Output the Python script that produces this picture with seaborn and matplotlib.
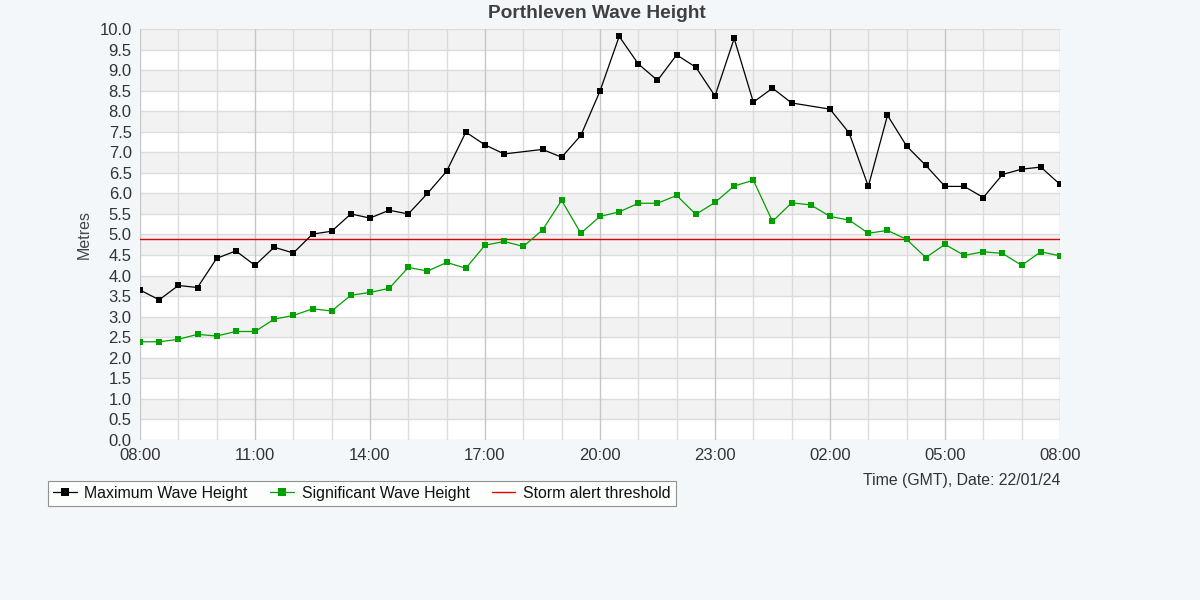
import numpy as np
import pandas as pd
import matplotlib
matplotlib.use("Agg")
import matplotlib.pyplot as plt
import seaborn as sns

# Half-hour slots from 08:00 (22/01/24) to 08:00 next day
slot_hours = [i * 0.5 for i in range(49)]
max_wave = [3.65, 3.41, 3.76, 3.71, 4.42, 4.60, 4.25, 4.69, 4.55, 5.01,
            5.08, 5.50, 5.40, 5.59, 5.50, 6.00, 6.54, 7.49, 7.18, 6.96,
            np.nan, 7.07, 6.88, 7.41, 8.49, 9.82, 9.15, 8.75, 9.37, 9.07,
            8.37, 9.77, 8.22, 8.56, 8.20, np.nan, 8.05, 7.47, 6.17, 7.90,
            7.15, 6.68, 6.17, 6.17, 5.90, 6.46, 6.59, 6.64, 6.22]
sig_wave = [2.39, 2.39, 2.45, 2.57, 2.53, 2.64, 2.64, 2.94, 3.03, 3.19,
            3.14, 3.52, 3.59, 3.69, 4.20, 4.11, 4.32, 4.18, 4.74, 4.83,
            4.71, 5.11, 5.83, 5.03, 5.44, 5.55, 5.76, 5.76, 5.95, 5.49,
            5.78, 6.18, 6.32, 5.32, 5.77, 5.72, 5.44, 5.35, 5.03, 5.10,
            4.88, 4.44, 4.76, 4.49, 4.58, 4.54, 4.25, 4.58, 4.48]
storm_threshold = 4.88
tick_hours = [0, 3, 6, 9, 12, 15, 18, 21, 24]
tick_labels = ["08:00", "11:00", "14:00", "17:00", "20:00", "23:00",
               "02:00", "05:00", "08:00"]
y_ticks = [i * 0.5 for i in range(21)]

sns.set_theme(style="white")
plt.rcParams['font.family'] = ['Liberation Sans', 'DejaVu Sans']

bg = "#f4f7fa"
fig = plt.figure(figsize=(12, 6), dpi=100, facecolor=bg)
ax = fig.add_axes([140/1200, 1-440/600, 920/1200, 411/600])
ax.set_facecolor("white")

# alternating bands
for k in range(10):
    ax.axhspan(k + 0.5, k + 1.0, color="#f2f2f2", zorder=0, lw=0)
for yv in y_ticks:
    ax.axhline(yv, color="#dcdcdc", lw=1, zorder=1)
for h in range(25):
    ax.axvline(h, color="#c6c6c6" if h % 3 == 0 else "#dcdcdc", lw=1, zorder=1)

df_max = pd.DataFrame({"h": slot_hours, "v": max_wave}).dropna()
df_sig = pd.DataFrame({"h": slot_hours, "v": sig_wave}).dropna()

sns.lineplot(data=df_max, x="h", y="v", ax=ax, color="black", lw=0.9,
             marker="s", markersize=4.8, markeredgewidth=0, zorder=4,
             label="Maximum Wave Height", legend=False)
sns.lineplot(data=df_sig, x="h", y="v", ax=ax, color="#00a000", lw=0.9,
             marker="s", markersize=4.8, markeredgewidth=0, zorder=4,
             label="Significant Wave Height", legend=False)
ax.axhline(storm_threshold, color="#dd0000", lw=1.0, zorder=3,
           label="Storm alert threshold")

ax.set_xlim(0, 24)
ax.set_ylim(0, 10)
ax.set_xticks(tick_hours)
ax.set_xticklabels(tick_labels)
ax.set_yticks(y_ticks)
ax.set_yticklabels([f"{v:.1f}" for v in y_ticks])
ax.tick_params(axis="both", labelsize=12, colors="#333333", length=0, pad=6)
ax.tick_params(axis="x", pad=6)
ax.set_xlabel("")
ax.set_ylabel("")
for s in ax.spines.values():
    s.set_visible(False)

fig.text(597/1200, 1-13/600, "Porthleven Wave Height", ha="center", va="center",
         fontsize=13.8, fontweight="bold", color="#404040")
fig.text(84/1200, 1-235/600, "Metres", rotation=90, ha="center", va="center",
         fontsize=11.5, color="#444444")
fig.text(1060/1200, 1-481/600, "Time (GMT), Date: 22/01/24", ha="right",
         va="center", fontsize=11.4, color="#333333")

handles, labels = ax.get_legend_handles_labels()
leg = fig.legend(handles, labels, loc="upper left", ncol=3,
                 bbox_to_anchor=(48/1200, 1-481/600), frameon=True,
                 fancybox=False, edgecolor="#777777", facecolor="white",
                 fontsize=11.4, handlelength=1.5, handletextpad=0.5,
                 columnspacing=1.4, borderpad=0.3, borderaxespad=0,
                 markerscale=1.3)
leg.get_frame().set_linewidth(0.8)
for t in leg.get_texts():
    t.set_color("#111111")

fig.savefig("out.png", dpi=100, facecolor=bg)
